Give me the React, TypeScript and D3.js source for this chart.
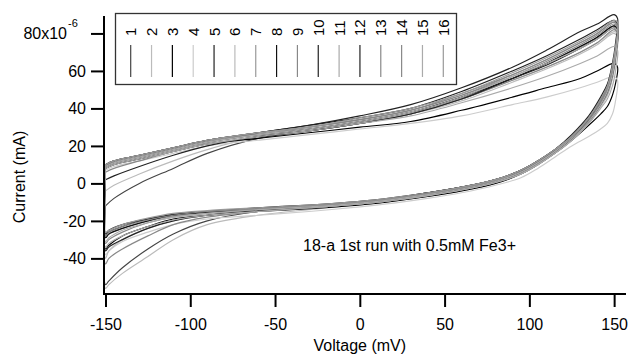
import React, { useRef, useEffect } from "react";
import * as d3 from "d3";

// run labels + colours as shown in the legend box
const runs = ["1", "2", "3", "4", "5", "6", "7", "8", "9", "10", "11", "12", "13", "14", "15", "16"];
const runColors = [
  "#444", "#bbb", "#000", "#ccc", "#222", "#bbb", "#999", "#111",
  "#888", "#222", "#aaa", "#222", "#888", "#888", "#aaa", "#999",
];

// sweep voltages (mV): forward (upper branch) then reverse (lower branch)
const forwardVoltages = [-150, -145, -130, -110, -90, -60, -30, 0, 30, 60, 90, 110, 130, 140, 150];
const reverseVoltages = [152, 151, 149, 146, 142, 135, 125, 115, 105, 95, 80, 60, 40, 20, 0, -30, -60, -90, -110, -125, -140, -148, -150];

// currents (x10^-6)
const forwardCurrents = [
  [-12, -8, 0, 8, 16, 24, 28, 32, 37, 45, 56, 64, 73, 78, 84],
  [-4, -1, 5, 12, 18, 25, 28, 32, 37, 44, 54, 61, 69, 74, 80],
  [8, 10, 13, 17, 21, 24, 27, 30, 33, 39, 46, 51, 56, 60, 64],
  [7, 9, 12, 16, 20, 23, 26, 29, 32, 36, 42, 46, 51, 54, 57],
  [10, 12, 15, 19, 23, 27, 31, 36, 42, 51, 62, 71, 81, 85, 90],
  [9, 11, 14, 18, 22, 26, 29, 33, 38, 45, 55, 62, 70, 75, 81],
  [10, 12, 15, 19, 23, 27, 30, 34, 39, 47, 58, 66, 75, 80, 86],
  [9, 11, 14, 18, 22, 26, 29, 33, 38, 46, 56, 64, 73, 78, 84],
  [6, 8, 12, 17, 21, 25, 28, 32, 37, 45, 55, 62, 70, 75, 82],
  [2, 4, 9, 15, 20, 25, 28, 32, 37, 45, 56, 63, 72, 77, 83],
  [8, 10, 13, 17, 21, 25, 28, 32, 36, 43, 51, 57, 64, 68, 73],
  [10, 12, 15, 19, 23, 27, 31, 35, 40, 49, 60, 68, 77, 82, 87],
  [9, 11, 14, 18, 22, 26, 30, 34, 39, 47, 57, 65, 74, 79, 85],
  [10, 12, 15, 19, 23, 27, 30, 34, 39, 48, 58, 66, 75, 80, 86],
  [9, 11, 14, 18, 22, 26, 29, 33, 38, 46, 57, 64, 72, 77, 83],
  [10, 12, 15, 19, 23, 27, 30, 35, 40, 48, 59, 67, 76, 81, 87],
];
const reverseCurrents = [
  [82, 70, 60, 50, 43, 34, 25, 18, 12, 7, 2, -2, -5, -8, -10.5, -13, -15, -20, -27, -35, -45, -52, -54],
  [78, 66, 56, 47, 41, 32, 23, 16, 10, 5, 0, -4, -7, -9.5, -11.5, -14, -17, -22, -30, -39, -48, -54, -56],
  [62, 54, 47, 41, 37, 31, 23, 16, 10, 5, 0, -4, -7, -9.5, -11.5, -13.5, -15, -17, -19, -23, -28, -33, -35],
  [55, 45, 37, 32, 29, 25, 20, 14, 8, 3, -1, -5, -8, -10.5, -12.5, -15, -17, -19, -22, -26, -31, -36, -38],
  [88, 76, 64, 53, 46, 36, 26, 18, 12, 7, 2, -2, -5, -8, -10, -12, -13.5, -15, -17, -19, -23, -26, -28],
  [80, 68, 57, 47, 41, 32, 23, 16, 10, 5, 0.5, -3.5, -6.5, -9, -11, -13, -15, -17, -20, -24, -30, -36, -40],
  [84, 72, 61, 51, 44, 35, 25, 18, 12, 7, 2, -2.5, -5.5, -8, -10, -12, -13.5, -15.5, -17.5, -20, -24, -27, -29],
  [82, 70, 59, 49, 43, 34, 24, 17, 11, 6, 1, -3, -6, -8.5, -10.5, -12, -14, -15.5, -17, -20, -24, -27, -29],
  [80, 68, 57, 48, 42, 33, 24, 17, 11, 6, 1, -3, -6, -9, -11, -13, -15, -18, -22, -28, -35, -40, -43],
  [81, 69, 58, 49, 42, 33, 24, 17, 11, 6, 1, -3, -6, -8.5, -10.5, -12.5, -14.5, -17, -20, -24, -30, -34, -36],
  [71, 61, 52, 45, 40, 32, 23, 16, 10, 5, 0.5, -3.5, -6.5, -9, -11, -13, -15, -17, -19.5, -23, -28, -32, -34],
  [85, 73, 62, 52, 45, 35, 25, 18, 12, 7, 2, -2, -5, -7.5, -9.5, -11.5, -13, -15, -16.5, -19, -22, -25, -27],
  [83, 71, 60, 50, 43, 34, 25, 17, 11, 6, 1.5, -2.5, -5.5, -8, -10, -12, -14, -16, -18, -21, -26, -30, -32],
  [84, 72, 61, 51, 44, 35, 25, 18, 12, 7, 2, -2, -5.5, -8, -10, -12, -13.5, -15, -17, -19.5, -23, -26, -28],
  [81, 69, 58, 49, 42, 33, 24, 17, 11, 6, 1, -3, -6, -8.5, -10.5, -12.5, -14, -16, -18, -21, -25, -29, -31],
  [86, 74, 63, 52, 45, 35, 25, 18, 12, 7, 2, -2, -5, -7.5, -9.5, -11.5, -13, -14.5, -16, -18.5, -22, -25, -26],
];

const xTicks = [-150, -100, -50, 0, 50, 100, 150];
const yTicks = [-40, -20, 0, 20, 40, 60, 80];
const note = "18-a 1st run with 0.5mM Fe3+";

const FONT = "'Liberation Sans', Arial, Helvetica, sans-serif";

export default function App() {
  const svgRef = useRef<SVGSVGElement>(null);

  useEffect(() => {
    const width = 629;
    const height = 355;
    const svg = d3.select(svgRef.current);
    svg.selectAll("*").remove();
    svg.attr("width", width).attr("height", height).style("font-family", FONT);

    svg.append("rect").attr("width", width).attr("height", height).attr("fill", "#fff");

    const x = d3.scaleLinear().domain([-150, 157]).range([105.5, 626]);
    const y = d3.scaleLinear().domain([-59, 89.3]).range([294, 16]);
    const axisX = 104; // where the y axis sits
    const axisY = 294; // where the x axis sits

    // curves
    const line = d3
      .line<[number, number]>()
      .x(d => x(d[0]))
      .y(d => y(d[1]))
      .curve(d3.curveCatmullRom.alpha(0.5));

    runs.forEach((r, i) => {
      const pts: [number, number][] = [
        ...forwardVoltages.map((v, j) => [v, forwardCurrents[i][j]] as [number, number]),
        ...reverseVoltages.map((v, j) => [v, reverseCurrents[i][j]] as [number, number]),
      ];
      pts.push(pts[0]);
      svg
        .append("path")
        .attr("d", line(pts))
        .attr("fill", "none")
        .attr("stroke", runColors[i])
        .attr("stroke-width", 1.15);
    });

    // y axis
    const yAxis = svg
      .append("g")
      .attr("transform", `translate(${axisX},0)`)
      .call(
        d3
          .axisLeft(y)
          .tickValues(yTicks)
          .tickSize(13)
          .tickPadding(5)
          .tickFormat(d => (d === 80 ? "" : String(d)))
      );
    yAxis.select(".domain").remove();
    yAxis.selectAll("line").attr("stroke", "#000").attr("stroke-width", 2);
    yAxis.selectAll("text").attr("font-size", 16).attr("font-family", FONT).attr("fill", "#000");

    // the 80x10^-6 label
    svg
      .append("text")
      .attr("x", 67)
      .attr("y", y(80))
      .attr("dy", "0.32em")
      .attr("text-anchor", "end")
      .attr("font-size", 16)
      .text("80x10");
    svg
      .append("text")
      .attr("x", 68)
      .attr("y", y(80) - 6)
      .attr("font-size", 11)
      .text("-6");

    // x axis
    const xAxis = svg
      .append("g")
      .attr("transform", `translate(0,${axisY})`)
      .call(
        d3.axisBottom(x).tickValues(xTicks).tickSize(13).tickPadding(12).tickFormat(d => String(d))
      );
    xAxis.select(".domain").remove();
    xAxis.selectAll("line").attr("stroke", "#000").attr("stroke-width", 2);
    xAxis.selectAll("text").attr("font-size", 16).attr("font-family", FONT).attr("fill", "#000");

    // axis lines
    svg.append("line")
      .attr("x1", axisX).attr("x2", axisX)
      .attr("y1", y.range()[1]).attr("y2", axisY + 1)
      .attr("stroke", "#000").attr("stroke-width", 2);
    svg.append("line")
      .attr("x1", axisX - 1).attr("x2", x.range()[1])
      .attr("y1", axisY).attr("y2", axisY)
      .attr("stroke", "#000").attr("stroke-width", 2);

    // axis titles
    svg.append("text")
      .attr("x", (x.range()[0] + x(150)) / 2)
      .attr("y", 351)
      .attr("text-anchor", "middle")
      .attr("font-size", 16)
      .text("Voltage (mV)");
    svg.append("text")
      .attr("transform", "translate(25,177) rotate(-90)")
      .attr("text-anchor", "middle")
      .attr("font-size", 16)
      .text("Current (mA)");

    // annotation
    svg.append("text")
      .attr("x", 303)
      .attr("y", 251)
      .attr("font-size", 16)
      .text(note);

    // legend
    const legend = svg.append("g");
    legend.append("rect")
      .attr("x", 115.5).attr("y", 13.5)
      .attr("width", 341).attr("height", 71)
      .attr("fill", "#fff").attr("stroke", "#333").attr("stroke-width", 1.3);
    runs.forEach((r, i) => {
      const cx = 130.7 + i * 20.84;
      legend.append("line")
        .attr("x1", cx).attr("x2", cx)
        .attr("y1", 45).attr("y2", 77)
        .attr("stroke", runColors[i]).attr("stroke-width", 1.2);
      legend.append("text")
        .attr("transform", `translate(${cx},36) rotate(-90)`)
        .attr("dominant-baseline", "central")
        .attr("font-size", 15)
        .text(r);
    });
  }, []);

  return (
    <svg
      ref={svgRef}
      style={{ position: "absolute", left: 0, top: 0, display: "block" }}
    ></svg>
  );
}
